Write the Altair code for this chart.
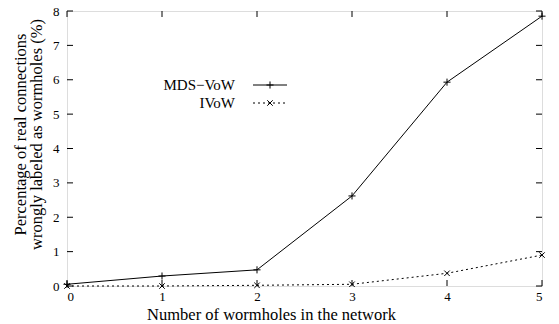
import altair as alt
import pandas as pd

wormholes = [0, 1, 2, 3, 4, 5]
mds_vow = [0.05, 0.29, 0.47, 2.62, 5.93, 7.85]
ivow = [0.0, 0.0, 0.02, 0.05, 0.37, 0.9]
series_names = ["MDS\u2212VoW", "IVoW"]
x_ticks = [0, 1, 2, 3, 4, 5]
y_ticks = [0, 1, 2, 3, 4, 5, 6, 7, 8]

W, H = 475, 275
FONT = "Liberation Serif"
PLUS = "M-1,0L1,0M0,-1L0,1"
XSHAPE = "M-1,-1L1,1M-1,1L1,-1"

df_m = pd.DataFrame({"x": wormholes, "y": mds_vow})
df_i = pd.DataFrame({"x": wormholes, "y": ivow})
df_xt = pd.DataFrame({"x": x_ticks})
df_yt = pd.DataFrame({"y": y_ticks})

xs = alt.Scale(domain=[0, 5], nice=False)
ys = alt.Scale(domain=[0, 8], nice=False)

xaxis = alt.Axis(values=x_ticks, format="d", ticks=False, domain=False, grid=False, labelFont=FONT,
                 labelFontSize=13, labelColor="black", labelPadding=4, title="Number of wormholes in the network",
                 titleFont=FONT, titleFontSize=16.5, titleFontWeight="normal", titleColor="black", titlePadding=3,
                 titleX=204, titleAlign="center")
yaxis = alt.Axis(values=y_ticks, format="d", ticks=False, domain=False, grid=False, labelFont=FONT,
                 labelFontSize=13, labelColor="black", labelPadding=8,
                 title=["Percentage of real connections", "wrongly labeled as wormholes (%)"],
                 titleFont=FONT, titleFontSize=16.5, titleFontWeight="normal", titleColor="black", titlePadding=8,
                 titleLineHeight=16, titleY=123, titleAlign="center")

X = alt.X("x:Q", scale=xs, axis=xaxis)
Y = alt.Y("y:Q", scale=ys, axis=yaxis)

base_m = alt.Chart(df_m)
line_m = base_m.mark_line(color="black", strokeWidth=1).encode(x=X, y=Y)
pts_m = base_m.mark_point(shape=PLUS, size=50, color="black", strokeWidth=1, filled=False, opacity=1).encode(x=X, y=Y)

base_i = alt.Chart(df_i)
line_i = base_i.mark_line(color="black", strokeWidth=1, strokeDash=[2, 3]).encode(x=X, y=Y)
pts_i = base_i.mark_point(shape=XSHAPE, size=30, color="black", strokeWidth=1, filled=False, opacity=1).encode(x=X, y=Y)

TL = 6
xt_bot = alt.Chart(df_xt).mark_rule(color="black", strokeWidth=1).encode(
    x=X, y=alt.value(H), y2=alt.value(H - TL))
xt_top = alt.Chart(df_xt).mark_rule(color="black", strokeWidth=1).encode(
    x=X, y=alt.value(0), y2=alt.value(TL))
yt_left = alt.Chart(df_yt).mark_rule(color="black", strokeWidth=1).encode(
    y=Y, x=alt.value(0), x2=alt.value(TL))
yt_right = alt.Chart(df_yt).mark_rule(color="black", strokeWidth=1).encode(
    y=Y, x=alt.value(W), x2=alt.value(W - TL))

# legend
lx_text = 168
ly1, ly2 = 74, 92
lx0, lx1 = 186, 220
lxm = (lx0 + lx1) / 2

def one(name):
    return alt.Chart(pd.DataFrame({"name": [name]}))

leg_m_text = one(series_names[0]).mark_text(
    font=FONT, fontSize=15, align="right", baseline="middle", color="black").encode(
    text="name:N", x=alt.value(lx_text), y=alt.value(ly1))
leg_i_text = one(series_names[1]).mark_text(
    font=FONT, fontSize=15, align="right", baseline="middle", color="black").encode(
    text="name:N", x=alt.value(lx_text), y=alt.value(ly2))
leg_m_line = one(series_names[0]).mark_rule(color="black", strokeWidth=1).encode(
    x=alt.value(lx0), x2=alt.value(lx1), y=alt.value(ly1))
leg_i_line = one(series_names[1]).mark_rule(color="black", strokeWidth=1, strokeDash=[2, 3]).encode(
    x=alt.value(lx0), x2=alt.value(lx1), y=alt.value(ly2))
leg_m_pt = one(series_names[0]).mark_point(
    shape=PLUS, size=50, color="black", strokeWidth=1, filled=False, opacity=1).encode(
    x=alt.value(lxm), y=alt.value(ly1))
leg_i_pt = one(series_names[1]).mark_point(
    shape=XSHAPE, size=30, color="black", strokeWidth=1, filled=False, opacity=1).encode(
    x=alt.value(lxm), y=alt.value(ly2))

chart = alt.layer(
    line_m, line_i, pts_m, pts_i, xt_bot, xt_top, yt_left, yt_right,
    leg_m_text, leg_i_text, leg_m_line, leg_i_line, leg_m_pt, leg_i_pt
).properties(
    width=W, height=H,
    autosize=alt.AutoSizeParams(type="none"),
    padding={"left": 67, "top": 11, "right": 17, "bottom": 38},
).configure_view(stroke="black", strokeWidth=1.5).configure(background="white")

chart.save("out.html", embed_options={"renderer": "svg", "actions": False})
